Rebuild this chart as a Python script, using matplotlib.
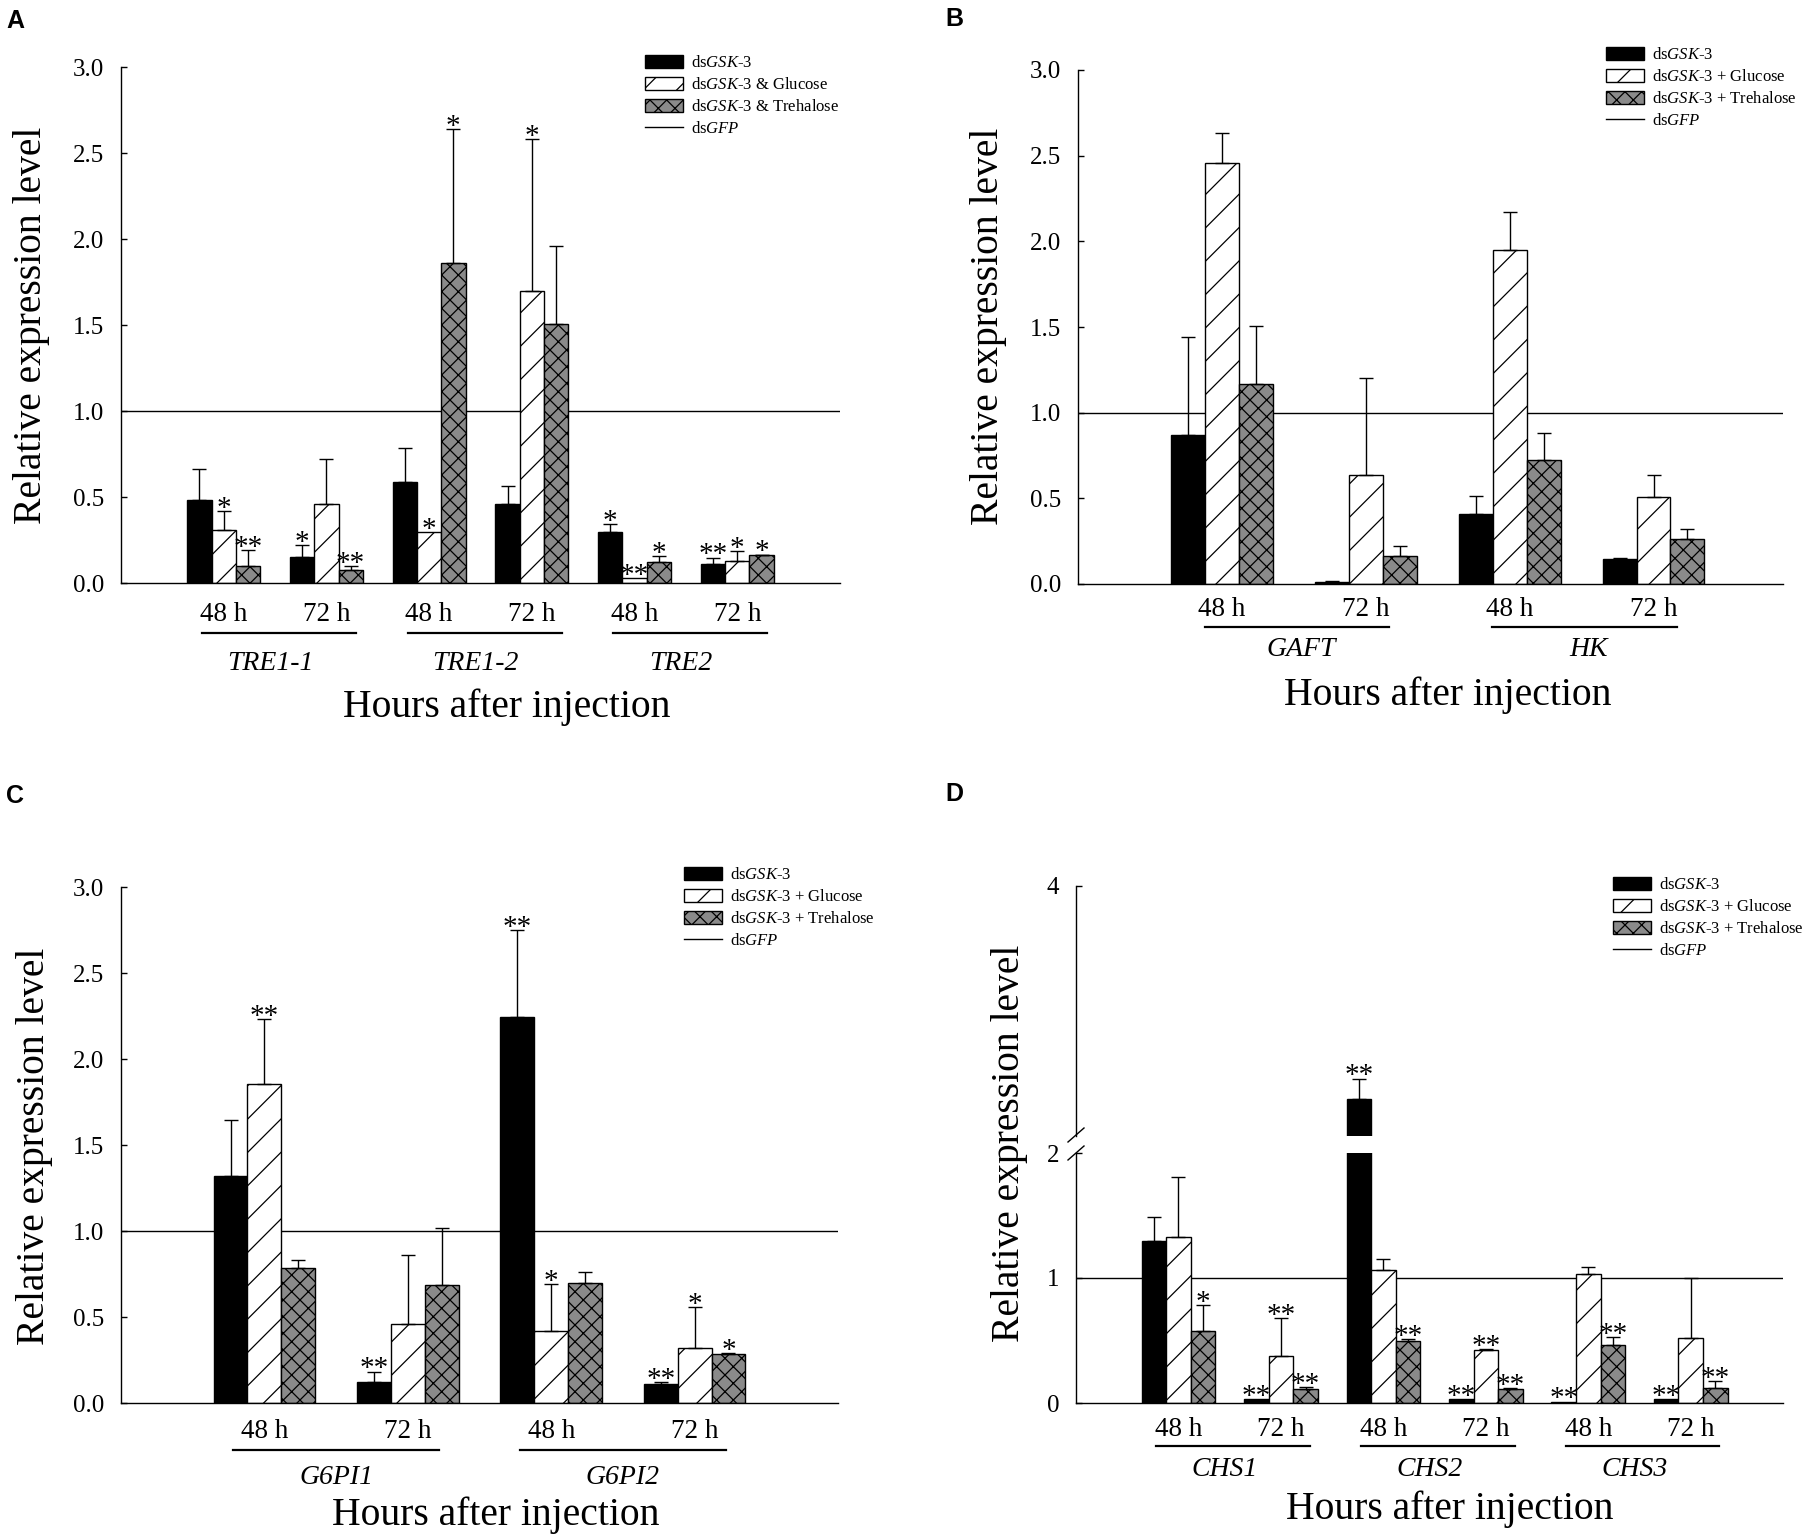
import numpy as np
import matplotlib
matplotlib.use('Agg')
import matplotlib.pyplot as plt
from matplotlib.patches import Patch
from matplotlib.lines import Line2D
from matplotlib.transforms import blended_transform_factory

plt.rcParams['font.family'] = ['Liberation Serif', 'DejaVu Serif']
plt.rcParams['mathtext.fontset'] = 'custom'
plt.rcParams['mathtext.rm'] = 'Liberation Serif'
plt.rcParams['mathtext.it'] = 'Liberation Serif:italic'
plt.rcParams['hatch.linewidth'] = 0.9

# ---------------- data ----------------
TIMES = ['48 h', '72 h']

# Panel A
A_genes = ['TRE1-1', 'TRE1-2', 'TRE2']
A_gsk = [0.485, 0.15, 0.585, 0.457, 0.297, 0.11]
A_gsk_se = [0.175, 0.07, 0.20, 0.108, 0.048, 0.038]
A_gsk_sig = ['', '*', '', '', '*', '**']
A_glu = [0.31, 0.46, 0.295, 1.70, 0.03, 0.13]
A_glu_se = [0.11, 0.26, np.nan, 0.88, np.nan, 0.055]
A_glu_sig = ['*', '', '*', '*', '**', '*']
A_tre = [0.10, 0.075, 1.86, 1.505, 0.12, 0.16]
A_tre_se = [0.09, 0.025, 0.78, 0.455, 0.037, 0.005]
A_tre_sig = ['**', '**', '*', '', '*', '*']

# Panel B
B_genes = ['GAFT', 'HK']
B_gsk = [0.87, 0.01, 0.406, 0.143]
B_gsk_se = [0.57, 0.007, 0.109, 0.006]
B_gsk_sig = ['', '', '', '']
B_glu = [2.456, 0.636, 1.947, 0.51]
B_glu_se = [0.174, 0.564, 0.226, 0.126]
B_glu_sig = ['', '', '', '']
B_tre = [1.165, 0.163, 0.724, 0.26]
B_tre_se = [0.341, 0.06, 0.158, 0.06]
B_tre_sig = ['', '', '', '']

# Panel C
C_genes = ['G6PI1', 'G6PI2']
C_gsk = [1.317, 0.123, 2.247, 0.108]
C_gsk_se = [0.331, 0.06, 0.505, 0.012]
C_gsk_sig = ['', '**', '**', '**']
C_glu = [1.856, 0.462, 0.419, 0.32]
C_glu_se = [0.374, 0.399, 0.271, 0.239]
C_glu_sig = ['**', '', '*', '*']
C_tre = [0.787, 0.687, 0.70, 0.282]
C_tre_se = [0.046, 0.331, 0.064, 0.006]
C_tre_sig = ['', '', '', '*']

# Panel D
D_genes = ['CHS1', 'CHS2', 'CHS3']
D_gsk = [1.294, 0.03, 2.30, 0.03, 0.012, 0.03]
D_gsk_se = [0.196, np.nan, 0.16, np.nan, np.nan, np.nan]
D_gsk_sig = ['', '**', '**', '**', '**', '**']
D_glu = [1.325, 0.373, 1.067, 0.424, 1.03, 0.52]
D_glu_se = [0.485, 0.305, 0.086, 0.006, 0.06, 0.48]
D_glu_sig = ['', '**', '', '**', '', '']
D_tre = [0.58, 0.11, 0.50, 0.11, 0.463, 0.118]
D_tre_se = [0.204, 0.015, 0.01, 0.008, 0.067, 0.058]
D_tre_sig = ['*', '**', '**', '**', '**', '**']

LABELS_AMP = [r'ds$\mathit{GSK}$-$\mathit{3}$', r'ds$\mathit{GSK}$-$\mathit{3}$ & Glucose',
              r'ds$\mathit{GSK}$-$\mathit{3}$ & Trehalose', r'ds$\mathit{GFP}$']
LABELS_PLUS = [r'ds$\mathit{GSK}$-$\mathit{3}$', r'ds$\mathit{GSK}$-$\mathit{3}$ + Glucose',
               r'ds$\mathit{GSK}$-$\mathit{3}$ + Trehalose', r'ds$\mathit{GFP}$']

# ---------------- style ----------------
GRAY = '#8a8a8a'
FACES = ['black', 'white', GRAY]
HATCHES = [None, '/', 'xx']
W, H = 1804, 1540
fig = plt.figure(figsize=(W / 100, H / 100), dpi=100)


def fx(px):
    return px / W


def fy(py):
    return 1 - py / H


def rect(l, t, r, b):
    return [fx(l), fy(b), fx(r) - fx(l), fy(t) - fy(b)]


def style_axis(ax, bottom=True):
    for s in ['top', 'right']:
        ax.spines[s].set_visible(False)
    ax.spines['left'].set_linewidth(1.0)
    ax.spines['bottom'].set_linewidth(1.0)
    if not bottom:
        ax.spines['bottom'].set_visible(False)
    ax.tick_params(axis='y', direction='in', length=4.5, width=1.0, pad=12, labelsize=18)
    ax.tick_params(axis='x', bottom=False, labelbottom=False)


def draw_series(ax, pos, series, width, annotate=True):
    ylo, yhi = ax.get_ylim()
    for k, (vals, se, sig) in enumerate(series):
        x = pos + (k - 1) * width
        vals = np.array(vals, float)
        se = np.array(se, float)
        ax.bar(x, vals, width, color=FACES[k], edgecolor='black', hatch=HATCHES[k],
               linewidth=1.0, zorder=2)
        ok = ~np.isnan(se)
        ax.errorbar(x[ok], vals[ok], yerr=[np.zeros(ok.sum()), se[ok]], fmt='none',
                    ecolor='black', elinewidth=1.0, capsize=5, capthick=1.0, zorder=3)
        tops = vals + np.nan_to_num(se)
        if annotate:
            for xi, ti, s in zip(x, tops, sig):
                if s and ylo <= ti <= yhi:
                    ax.annotate(s, xy=(xi, ti), xytext=(0, -3.5), textcoords='offset points',
                                ha='center', va='baseline', fontsize=21, zorder=4)


def group_labels(ax, pos, genes, ys, under, gene_off, hours_x):
    y48, yline, ygene, yhours = ys
    tr = blended_transform_factory(ax.transData, fig.transFigure)
    for g, gene in enumerate(genes):
        c48 = pos[2 * g]
        c72 = pos[2 * g + 1]
        ax.text(c48, fy(y48), TIMES[0], transform=tr, ha='center', va='center', fontsize=19.5)
        ax.text(c72, fy(y48), TIMES[1], transform=tr, ha='center', va='center', fontsize=19.5)
        ln = Line2D([c48 + under[0], c72 + under[1]], [fy(yline), fy(yline)], transform=tr,
                    color='black', lw=1.6, clip_on=False)
        ax.add_line(ln)
        ax.text(c48 + gene_off, fy(ygene), gene, transform=tr, ha='center', va='center',
                fontsize=20, style='italic')
    tr2 = blended_transform_factory(ax.transAxes, fig.transFigure)
    ax.text(hours_x, fy(yhours), 'Hours after injection', transform=tr2, ha='center',
            va='center', fontsize=28.5)


def legend(labels, left, top):
    handles = [Patch(facecolor='black', edgecolor='black'),
               Patch(facecolor='white', edgecolor='black', hatch='/'),
               Patch(facecolor=GRAY, edgecolor='black', hatch='xx'),
               Line2D([], [], color='black', lw=1.0)]
    fig.legend(handles, labels, loc='upper left', bbox_to_anchor=(fx(left), fy(top)),
               bbox_transform=fig.transFigure, frameon=False, fontsize=12,
               handlelength=2.3, handleheight=0.85, handletextpad=0.45,
               labelspacing=0.33, borderpad=0, borderaxespad=0)


def ylabel(x, y):
    fig.text(fx(x), fy(y), 'Relative expression level', rotation=90, ha='center',
             va='center', fontsize=28.5)


def panel_letter(s, x, y):
    fig.text(fx(x), fy(y), s, ha='left', va='top', fontsize=18, fontweight='bold',
             family='Liberation Sans')


W_BAR = 0.236
TICKS3 = [0.0, 0.5, 1.0, 1.5, 2.0, 2.5, 3.0]

# ---------------- Panel A ----------------
axA = fig.add_axes(rect(121, 67, 840, 583))
style_axis(axA)
axA.set_xlim(0, 7)
axA.set_ylim(0, 3.0)
axA.set_yticks(TICKS3)
axA.set_yticklabels(['%.1f' % t for t in TICKS3])
posA = np.arange(1, 7, dtype=float)
axA.axhline(1.0, color='black', lw=1.0, zorder=1)
draw_series(axA, posA, [(A_gsk, A_gsk_se, A_gsk_sig), (A_glu, A_glu_se, A_glu_sig),
                        (A_tre, A_tre_se, A_tre_sig)], W_BAR)
group_labels(axA, posA, A_genes, (614, 633, 663, 707), (-0.21, 0.29), 0.45, 0.537)
legend(LABELS_AMP, 645, 55)
ylabel(32, 325)
panel_letter('A', 6, 9)

# ---------------- Panel B ----------------
axB = fig.add_axes(rect(1078, 70, 1783, 584))
style_axis(axB)
axB.set_xlim(0, 4.9)
axB.set_ylim(0, 3.0)
axB.set_yticks(TICKS3)
axB.set_yticklabels(['%.1f' % t for t in TICKS3])
posB = np.arange(1, 5, dtype=float)
axB.axhline(1.0, color='black', lw=1.0, zorder=1)
draw_series(axB, posB, [(B_gsk, B_gsk_se, B_gsk_sig), (B_glu, B_glu_se, B_glu_sig),
                        (B_tre, B_tre_se, B_tre_sig)], W_BAR)
group_labels(axB, posB, B_genes, (610, 627, 649, 695), (-0.12, 0.16), 0.55, 0.524)
legend(LABELS_PLUS, 1606, 47)
ylabel(988, 326)
panel_letter('B', 945, 7)

# ---------------- Panel C ----------------
axC = fig.add_axes(rect(121, 887, 838, 1403))
style_axis(axC)
axC.set_xlim(0, 5)
axC.set_ylim(0, 3.0)
axC.set_yticks(TICKS3)
axC.set_yticklabels(['%.1f' % t for t in TICKS3])
posC = np.arange(1, 5, dtype=float)
axC.axhline(1.0, color='black', lw=1.0, zorder=1)
draw_series(axC, posC, [(C_gsk, C_gsk_se, C_gsk_sig), (C_glu, C_glu_se, C_glu_sig),
                        (C_tre, C_tre_se, C_tre_sig)], W_BAR)
group_labels(axC, posC, C_genes, (1431, 1450, 1477, 1515), (-0.22, 0.22), 0.5, 0.522)
legend(LABELS_PLUS, 684, 867)
ylabel(35, 1146)
panel_letter('C', 6, 784)

# ---------------- Panel D (broken axis) ----------------
D_series = [(D_gsk, D_gsk_se, D_gsk_sig), (D_glu, D_glu_se, D_glu_sig),
            (D_tre, D_tre_se, D_tre_sig)]
posD = np.arange(1, 7, dtype=float)
axD = fig.add_axes(rect(1076, 1153, 1783, 1403))
style_axis(axD)
axD.set_xlim(0, 6.9)
axD.set_ylim(0, 2)
axD.set_yticks([0, 1, 2])
axD.set_yticklabels(['0', '1', '2'])
axD.axhline(1.0, color='black', lw=1.0, zorder=1)
draw_series(axD, posD, D_series, 0.24)

axDu = fig.add_axes(rect(1076, 886, 1783, 1136))
style_axis(axDu, bottom=False)
axDu.set_xlim(0, 6.9)
axDu.set_ylim(2, 4)
axDu.set_yticks([4])
axDu.set_yticklabels(['4'])
axDu.patch.set_alpha(0)
draw_series(axDu, posD, D_series, 0.24)

# break marks on the y axis
for (x0, y0, x1, y1) in [(1068, 1142, 1084, 1128), (1068, 1160, 1084, 1146)]:
    fig.add_artist(Line2D([fx(x0), fx(x1)], [fy(y0), fy(y1)], transform=fig.transFigure,
                          color='black', lw=1.0))

group_labels(axD, posD, D_genes, (1429, 1446, 1470, 1509), (-0.22, 0.28), 0.45, 0.528)
legend(LABELS_PLUS, 1613, 877)
ylabel(1009, 1143)
panel_letter('D', 945, 782)

fig.savefig('out.png', dpi=100)
